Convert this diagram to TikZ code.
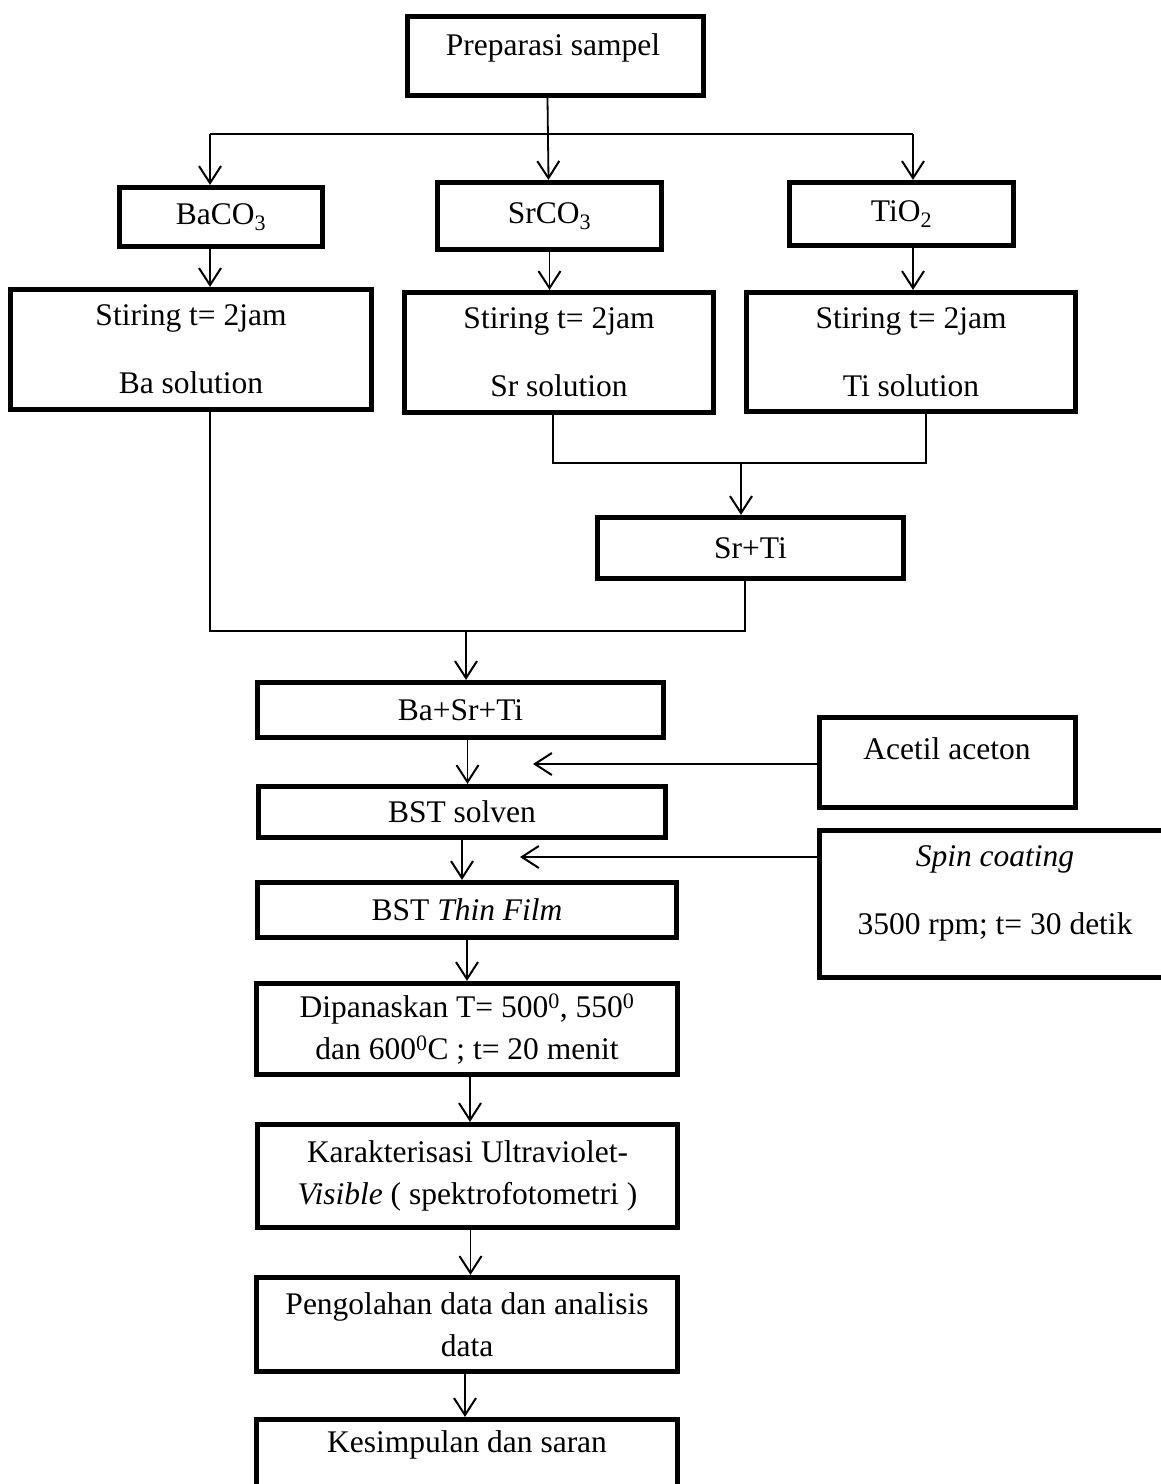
\documentclass[tikz,border=0pt]{standalone}
\usepackage{fontspec}
\setmainfont{Liberation Serif}
\usetikzlibrary{arrows.meta,calc}
\begin{document}
\begin{tikzpicture}[x=1pt,y=-1pt,
  font=\fontsize{31.5}{42}\selectfont,
  box/.style={draw, line width=5.2pt, inner sep=0pt, align=center},
  txt/.style={inner sep=0pt, align=center},
  wide/.style={font=\fontsize{31.5}{68}\selectfont},
  conn/.style={line width=1.8pt},
  arr/.style={line width=1.8pt, -{Straight Barb[length=17pt,width=22pt,line width=2pt]}}]
\useasboundingbox (0,0) rectangle (1160,1484);

% boxes
\node[box, minimum width=296pt, minimum height=79pt] (prep) at (555.5,56) {};
\node[txt] (preptxt) at (553,48) {Preparasi sampel};
\node[box, minimum width=203pt, minimum height=59pt] (ba) at (221,217) {\raisebox{-4pt}{BaCO\textsubscript{3}}};
\node[box, minimum width=224pt, minimum height=67pt] (sr) at (549.5,216) {SrCO\textsubscript{3}};
\node[box, minimum width=224pt, minimum height=63pt] (ti) at (901.5,214) {\raisebox{-3pt}{TiO\textsubscript{2}}};

\node[box, wide, minimum width=361pt, minimum height=120pt] (sba) at (191,349.5) {Stiring t= 2jam\\Ba solution};
\node[box, wide, minimum width=309pt, minimum height=120pt] (ssr) at (559,352.5) {Stiring t= 2jam\\Sr solution};
\node[box, wide, minimum width=329pt, minimum height=119pt] (sti) at (911,352) {Stiring t= 2jam\\Ti solution};

\node[box, minimum width=306pt, minimum height=61pt] (srti) at (750.5,548) {Sr+Ti};
\node[box, minimum width=406pt, minimum height=55pt] (bst3) at (460.5,710) {Ba+Sr+Ti};
\node[box, minimum width=256pt, minimum height=90pt] (acet) at (947.5,762.5) {};
\node[txt] (acettxt) at (947,749) {Acetil aceton};
\node[box, minimum width=407pt, minimum height=51pt] (solv) at (462,812) {BST solven};
\node[box, minimum width=358pt, minimum height=147pt] (spin) at (998.5,904) {};
\node[txt, wide] (spintxt) at (995,893.5) {\textit{Spin coating}\\3500 rpm; t= 30 detik};
\node[box, minimum width=419pt, minimum height=55pt] (thin) at (467,910) {BST \textit{Thin Film}};
\node[box, minimum width=421pt, minimum height=91pt] (dip) at (467,1029) {Dipanaskan T= 500\textsuperscript{0}, 550\textsuperscript{0}\\dan 600\textsuperscript{0}C ; t= 20 menit};
\node[box, minimum width=420pt, minimum height=103pt] (kar) at (467.5,1176) {Karakterisasi Ultraviolet-\\\textit{Visible} ( spektrofotometri )};
\node[box, minimum width=421pt, minimum height=94pt] (peng) at (467,1324.5) {Pengolahan data dan analisis\\data};
\node[box, minimum width=421pt, minimum height=98pt] (kes) at (467,1468.5) {};
\node[txt] (kestxt) at (467,1445) {Kesimpulan dan saran};

% top distribution
\coordinate (t1) at (210,134);
\coordinate (t3) at (913,134);
\draw[conn] (t1) -- (t3);
\draw[arr] (t1) -- (t1 |- ba.north);
\draw[arr] (t3) -- (t3 |- ti.north);
\draw[arr] ([xshift=-8pt]prep.south) -- ([xshift=-1pt]sr.north);

% to stiring boxes
\draw[arr] (ba.south -| t1) -- (sba.north -| t1);
\draw[arr] (sr.south) -- (sr.south |- ssr.north);
\draw[arr] (ti.south -| t3) -- (sti.north -| t3);

% Sr + Ti join
\coordinate (j1) at (553,463);
\coordinate (j2) at (926,463);
\coordinate (j3) at (741,463);
\draw[conn] (ssr.south -| j1) -- (j1) -- (j2) -- (sti.south -| j2);
\draw[arr] (j3) -- (j3 |- srti.north);

% Ba + (Sr+Ti) join
\coordinate (k1) at (210,631);
\coordinate (k2) at (745,631);
\coordinate (k3) at (466,631);
\draw[conn] (sba.south -| k1) -- (k1) -- (k2) -- (srti.south -| k2);
\draw[arr] (k3) -- (k3 |- bst3.north);

% main chain
\draw[arr] ([xshift=7pt]bst3.south) -- ([xshift=7pt]bst3.south |- solv.north);
\draw[arr] (solv.south) -- (solv.south |- thin.north);
\draw[arr] (thin.south) -- (thin.south |- dip.north);
\draw[arr] ([xshift=3pt]dip.south) -- ([xshift=3pt]dip.south |- kar.north);
\draw[arr] ([xshift=3pt]kar.south) -- ([xshift=3pt]kar.south |- peng.north);
\draw[arr] ([xshift=-2pt]peng.south) -- ([xshift=-2pt]peng.south |- kes.north);

% side inputs
\coordinate (m1) at (533,764);
\coordinate (m2) at (520,857);
\draw[arr] (acet.west |- m1) -- (m1);
\draw[arr] (spin.west |- m2) -- (m2);
\end{tikzpicture}
\end{document}
